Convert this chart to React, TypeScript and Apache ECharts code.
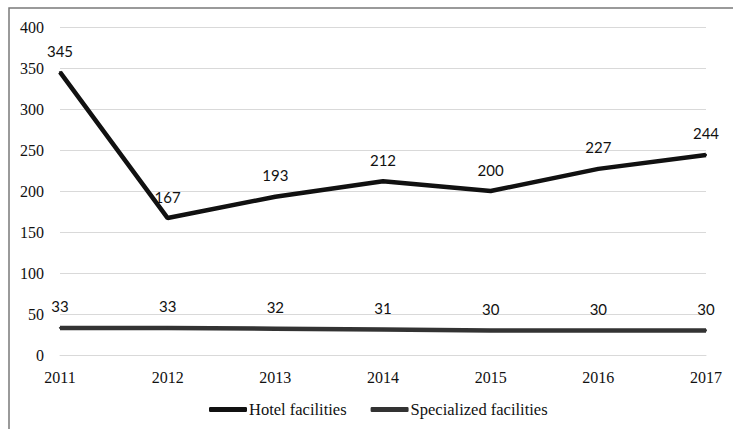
import React, { useEffect, useRef } from "react";
import * as echarts from "echarts";

const years = ["2011", "2012", "2013", "2014", "2015", "2016", "2017"];
const hotel = [345, 167, 193, 212, 200, 227, 244];
const specialized = [33, 33, 32, 31, 30, 30, 30];

const SERIF = "'Liberation Serif', 'Times New Roman', 'DejaVu Serif', serif";

export default function App() {
  const ref = useRef<HTMLDivElement>(null);
  useEffect(() => {
    if (!ref.current) return;
    const chart = echarts.init(ref.current, null, { renderer: "svg" });
    const labelStyle = {
      show: true,
      position: "top" as const,
      distance: 13,
      fontFamily: "Lato, 'Open Sans', sans-serif",
      fontSize: 15,
      color: "#111",
    };
    chart.setOption({
      animation: false,
      backgroundColor: "#fff",
      graphic: [
        {
          type: "polyline",
          shape: { points: [[9, 440], [9, 8], [740, 8]] },
          style: { stroke: "#7a7a7a", lineWidth: 1.5, fill: "none" },
          silent: true,
        },
      ],
      grid: { left: 60, right: 27, top: 27, bottom: 74 },
      legend: {
        bottom: 6,
        left: 204,
        itemWidth: 38,
        itemHeight: 5,
        itemGap: 24,
        icon: "roundRect",
        textStyle: { fontFamily: SERIF, fontSize: 16.5, color: "#111", padding: [0, 0, 0, -3] },
        data: ["Hotel facilities", "Specialized facilities"],
      },
      xAxis: {
        type: "category",
        data: years,
        boundaryGap: false,
        axisLine: { show: true, lineStyle: { color: "#d9d9d9", width: 1 } },
        axisTick: { show: false },
        axisLabel: { fontFamily: SERIF, fontSize: 16, color: "#111", margin: 14 },
      },
      yAxis: {
        type: "value",
        min: 0,
        max: 400,
        interval: 50,
        axisLine: { show: false },
        axisTick: { show: false },
        splitLine: { lineStyle: { color: "#d9d9d9", width: 1 } },
        axisLabel: { fontFamily: SERIF, fontSize: 16, color: "#111", margin: 16 },
      },
      series: [
        {
          name: "Hotel facilities",
          type: "line",
          data: hotel,
          symbol: "circle",
          symbolSize: 2,
          itemStyle: { color: "#111" },
          lineStyle: { color: "#111", width: 4.5 },
          label: labelStyle,
        },
        {
          name: "Specialized facilities",
          type: "line",
          data: specialized,
          symbol: "circle",
          symbolSize: 2,
          itemStyle: { color: "#333" },
          lineStyle: { color: "#333", width: 4.5 },
          label: labelStyle,
        },
      ],
    });
    return () => chart.dispose();
  }, []);
  return (
    <div
      ref={ref}
      style={{ position: "fixed", left: 0, top: 0, width: 733, height: 429 }}
    />
  );
}
